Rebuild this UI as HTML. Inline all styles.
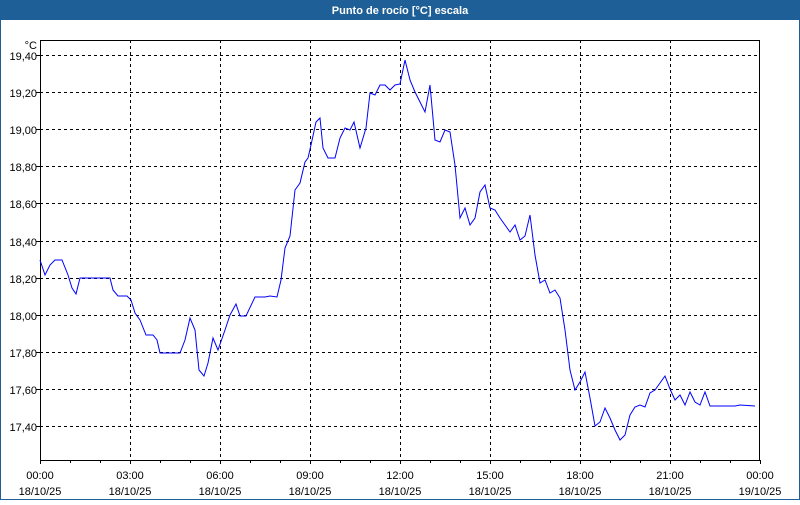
<!DOCTYPE html>
<html><head><meta charset="utf-8"><style>
body{margin:0;width:800px;height:500px;overflow:hidden;background:#fff;font-family:"Liberation Sans","DejaVu Sans",sans-serif}
</style></head><body>
<svg width="800" height="500" xmlns="http://www.w3.org/2000/svg" font-family="Liberation Sans, DejaVu Sans, sans-serif" font-size="11">
<rect x="0" y="0" width="800" height="500" fill="#fff"/>
<rect x="0" y="0" width="800" height="20" fill="#1e5f98"/>
<rect x="0" y="20" width="1" height="480" fill="#1e5f98"/>
<rect x="799" y="20" width="1" height="480" fill="#1e5f98"/>
<rect x="0" y="499" width="800" height="1" fill="#1e5f98"/>
<text x="400" y="14" text-anchor="middle" fill="#fff" font-weight="bold" font-size="11">Punto de rocío [°C] escala</text>
<g stroke="#000" stroke-dasharray="3,3" stroke-width="1">
<line x1="40" x2="760" y1="55.5" y2="55.5"/><line x1="40" x2="760" y1="92.5" y2="92.5"/><line x1="40" x2="760" y1="129.5" y2="129.5"/><line x1="40" x2="760" y1="166.5" y2="166.5"/><line x1="40" x2="760" y1="203.5" y2="203.5"/><line x1="40" x2="760" y1="241.5" y2="241.5"/><line x1="40" x2="760" y1="278.5" y2="278.5"/><line x1="40" x2="760" y1="315.5" y2="315.5"/><line x1="40" x2="760" y1="352.5" y2="352.5"/><line x1="40" x2="760" y1="389.5" y2="389.5"/><line x1="40" x2="760" y1="426.5" y2="426.5"/>
<line x1="130.5" x2="130.5" y1="40" y2="460"/><line x1="220.5" x2="220.5" y1="40" y2="460"/><line x1="310.5" x2="310.5" y1="40" y2="460"/><line x1="400.5" x2="400.5" y1="40" y2="460"/><line x1="490.5" x2="490.5" y1="40" y2="460"/><line x1="580.5" x2="580.5" y1="40" y2="460"/><line x1="670.5" x2="670.5" y1="40" y2="460"/>
</g>
<rect x="40.5" y="40.5" width="719" height="420" fill="none" stroke="#000"/>
<g stroke="#000">
<path d="M40.5 460v4M70.5 460v3M100.5 460v3M130.5 460v4M160.5 460v3M190.5 460v3M220.5 460v4M250.5 460v3M280.5 460v3M310.5 460v4M340.5 460v3M370.5 460v3M400.5 460v4M430.5 460v3M460.5 460v3M490.5 460v4M520.5 460v3M550.5 460v3M580.5 460v4M610.5 460v3M640.5 460v3M670.5 460v4M700.5 460v3M730.5 460v3M760.5 460v4"/>
<path d="M36 55.5h4M36 92.5h4M36 129.5h4M36 166.5h4M36 203.5h4M36 241.5h4M36 278.5h4M36 315.5h4M36 352.5h4M36 389.5h4M36 426.5h4"/>
</g>
<g text-anchor="end" fill="#000">
<text x="37" y="49">°C</text>
<text x="37" y="60">19,40</text><text x="37" y="97">19,20</text><text x="37" y="134">19,00</text><text x="37" y="171">18,80</text><text x="37" y="208">18,60</text><text x="37" y="246">18,40</text><text x="37" y="283">18,20</text><text x="37" y="320">18,00</text><text x="37" y="357">17,80</text><text x="37" y="394">17,60</text><text x="37" y="431">17,40</text>
</g>
<g text-anchor="middle" fill="#000">
<text x="40" y="479">00:00</text><text x="40" y="495">18/10/25</text>
<text x="130" y="479">03:00</text><text x="130" y="495">18/10/25</text>
<text x="220" y="479">06:00</text><text x="220" y="495">18/10/25</text>
<text x="310" y="479">09:00</text><text x="310" y="495">18/10/25</text>
<text x="400" y="479">12:00</text><text x="400" y="495">18/10/25</text>
<text x="490" y="479">15:00</text><text x="490" y="495">18/10/25</text>
<text x="580" y="479">18:00</text><text x="580" y="495">18/10/25</text>
<text x="670" y="479">21:00</text><text x="670" y="495">18/10/25</text>
<text x="760" y="479">00:00</text><text x="760" y="495">19/10/25</text>
</g>
<polyline fill="none" stroke="#0000ff" stroke-width="1" points="40,260 45,275 50,265 55,260 62,260 68,275 72,288 76,294 80,278 110,278 113,290 118,296 127,296 131,300 135,313 140,320 146,335 153,335 157,340 160,353 180,353 185,340 190,318 195,330 199,370 204,376 208,363 213,338 218,350 225,330 230,315 236,304 240,316 246,316 255,297 265,297 270,296 277,297 281,280 285,248 290,236 295,190 300,183 305,162 308,158 311,145 316,122 320,118 323,148 328,158 335,158 340,138 345,128 350,130 354,122 360,148 366,128 370,93 375,95 380,85 385,85 390,90 395,85 400,84 405,60 410,80 415,92 420,102 425,112 430,85 435,140 440,142 445,130 450,132 455,165 460,218 465,208 470,225 475,218 480,192 485,185 490,208 495,210 500,218 505,225 510,232 515,225 520,240 525,236 530,215 535,255 540,283 545,280 550,293 555,290 560,298 565,330 570,370 575,390 580,382 585,372 590,398 595,426 600,422 605,408 610,418 615,430 620,440 625,435 630,415 635,407 640,405 645,407 650,393 655,390 660,383 665,376 670,389 675,400 680,395 685,405 690,392 695,402 700,405 705,392 710,406 720,406 735,406 740,405 755,406"/>
</svg>
</body></html>
